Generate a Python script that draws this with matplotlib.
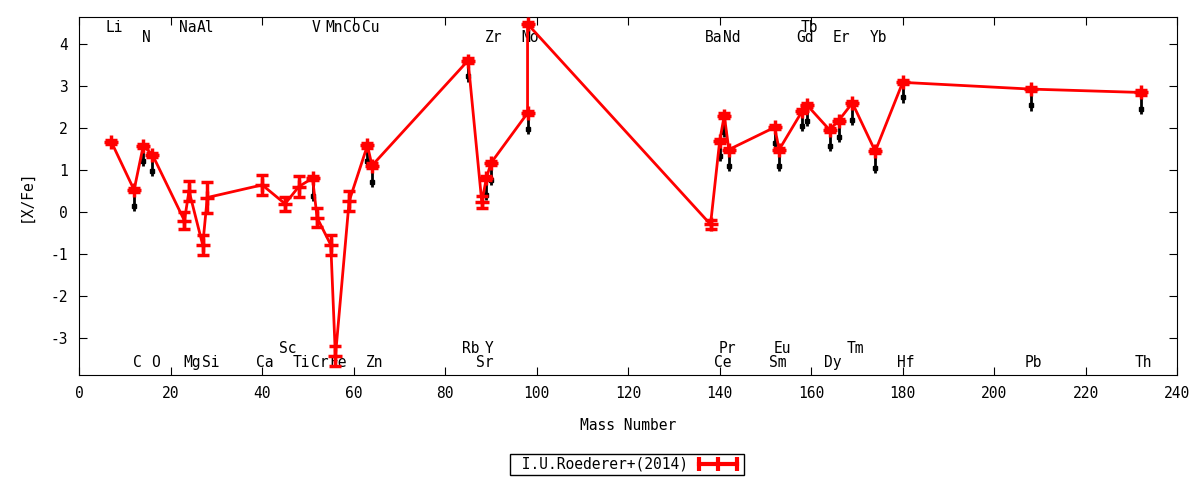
import matplotlib
matplotlib.use('Agg')
import matplotlib.pyplot as plt
import matplotlib.transforms as mtransforms
from matplotlib.lines import Line2D
import numpy as np

plt.rcParams['font.family'] = ['DejaVu Sans Mono']
plt.rcParams['font.size'] = 10.5

# abundance data, ordered by mass number
mass = [7, 12, 14, 16, 23, 24, 27, 28, 40, 45, 48, 51, 52, 55, 56, 59, 63, 64,
        85, 88, 89, 90, 98, 98, 138, 140, 141, 142, 152, 153, 158, 159, 164,
        166, 169, 174, 180, 208, 232]
xfe = [1.67, 0.52, 1.57, 1.36, -0.21, 0.50, -0.79, 0.34, 0.64, 0.19, 0.60,
       0.80, -0.14, -0.79, -3.44, 0.25, 1.58, 1.10,
       3.60, 0.23, 0.80, 1.16, 2.35, 4.47, -0.30, 1.69, 2.29, 1.48, 2.01, 1.48,
       2.39, 2.55, 1.95, 2.17, 2.59, 1.44, 3.08, 2.92, 2.84]
err = [0.05, 0.05, 0.05, 0.05, 0.20, 0.24, 0.24, 0.38, 0.24, 0.17, 0.25,
       0.05, 0.22, 0.24, 0.24, 0.24, 0.05, 0.05,
       0.05, 0.15, 0.05, 0.05, 0.05, 0.05, 0.10, 0.05, 0.05, 0.05, 0.05, 0.05,
       0.05, 0.05, 0.05, 0.05, 0.05, 0.05, 0.05, 0.05, 0.05]
# lower black values (nan = none)
nan = np.nan
low = [nan, 0.15, 1.20, 0.98, nan, nan, nan, nan, nan, nan, nan,
       0.37, nan, nan, nan, nan, 1.20, 0.72,
       3.22, nan, 0.40, 0.76, 1.98, nan, nan, 1.32, 1.90, 1.10, 1.63, 1.10,
       2.05, 2.17, 1.56, 1.79, 2.19, 1.05, 2.72, 2.53, 2.45]

# element labels (name, mass) by row
top1 = [('Li', 7), ('Na', 23), ('Al', 27), ('V', 51), ('Mn', 55), ('Co', 59),
        ('Cu', 63), ('Tb', 159)]
top2 = [('N', 14), ('Zr', 90), ('Mo', 98), ('Ba', 138), ('Nd', 142),
        ('Gd', 158), ('Er', 166), ('Yb', 174)]
bot1 = [('Sc', 45), ('Rb', 85), ('Y', 89), ('Pr', 141), ('Eu', 153), ('Tm', 169)]
bot2 = [('C', 12), ('O', 16), ('Mg', 24), ('Si', 28), ('Ca', 40), ('Ti', 48),
        ('Cr', 52), ('Fe', 56), ('Zn', 64), ('Sr', 88), ('Ce', 140),
        ('Sm', 152), ('Dy', 164), ('Hf', 180), ('Pb', 208), ('Th', 232)]

fig = plt.figure(figsize=(12, 4.8), dpi=100)
ax = fig.add_axes([0.066, 0.219, 0.915, 0.746])

# black lower segments
m = np.array(mass, dtype=float)
y = np.array(xfe)
lo = np.array(low)
ok = ~np.isnan(lo)
ax.vlines(m[ok], lo[ok] - 0.12, y[ok], color='black', lw=2, zorder=2)
ax.plot(m[ok], lo[ok], 's', color='black', ms=3.5, zorder=2)

ax.errorbar(mass, xfe, yerr=err, color='red', lw=2, marker='+', ms=10,
            mew=2.5, capsize=4, capthick=3, elinewidth=2.5, zorder=3)

# element names
tr = mtransforms.blended_transform_factory(ax.transData, ax.transAxes)
tr = mtransforms.offset_copy(tr, fig=fig, x=3, y=0, units='dots')
for row, yy in [(top1, 0.969), (top2, 0.941), (bot1, 0.073), (bot2, 0.034)]:
    for name, mm in row:
        ax.text(mm, yy, name, transform=tr, ha='center', va='center', zorder=1)

ax.set_xlim(0, 240)
ax.set_ylim(-3.88, 4.64)
ax.set_xticks(range(0, 241, 20))
ax.set_yticks(range(-3, 5))
ax.set_yticklabels([str(v) for v in range(-3, 5)])
ax.tick_params(direction='in', length=6, top=True, right=True, pad=8)
ax.set_xlabel('Mass Number', labelpad=12)
ax.set_ylabel('[X/Fe]', labelpad=12)

h = Line2D([0, 1], [0, 0], color='red', lw=3, marker='|', ms=10, mew=3)
fig.legend([h], [' I.U.Roederer+(2014)'], loc='center',
           bbox_to_anchor=(0.5225, 0.033), numpoints=3, markerfirst=False,
           fancybox=False, edgecolor='black', framealpha=1,
           borderpad=0.2, handlelength=3.2, handletextpad=0.5)

fig.savefig('out.png', dpi=100)
